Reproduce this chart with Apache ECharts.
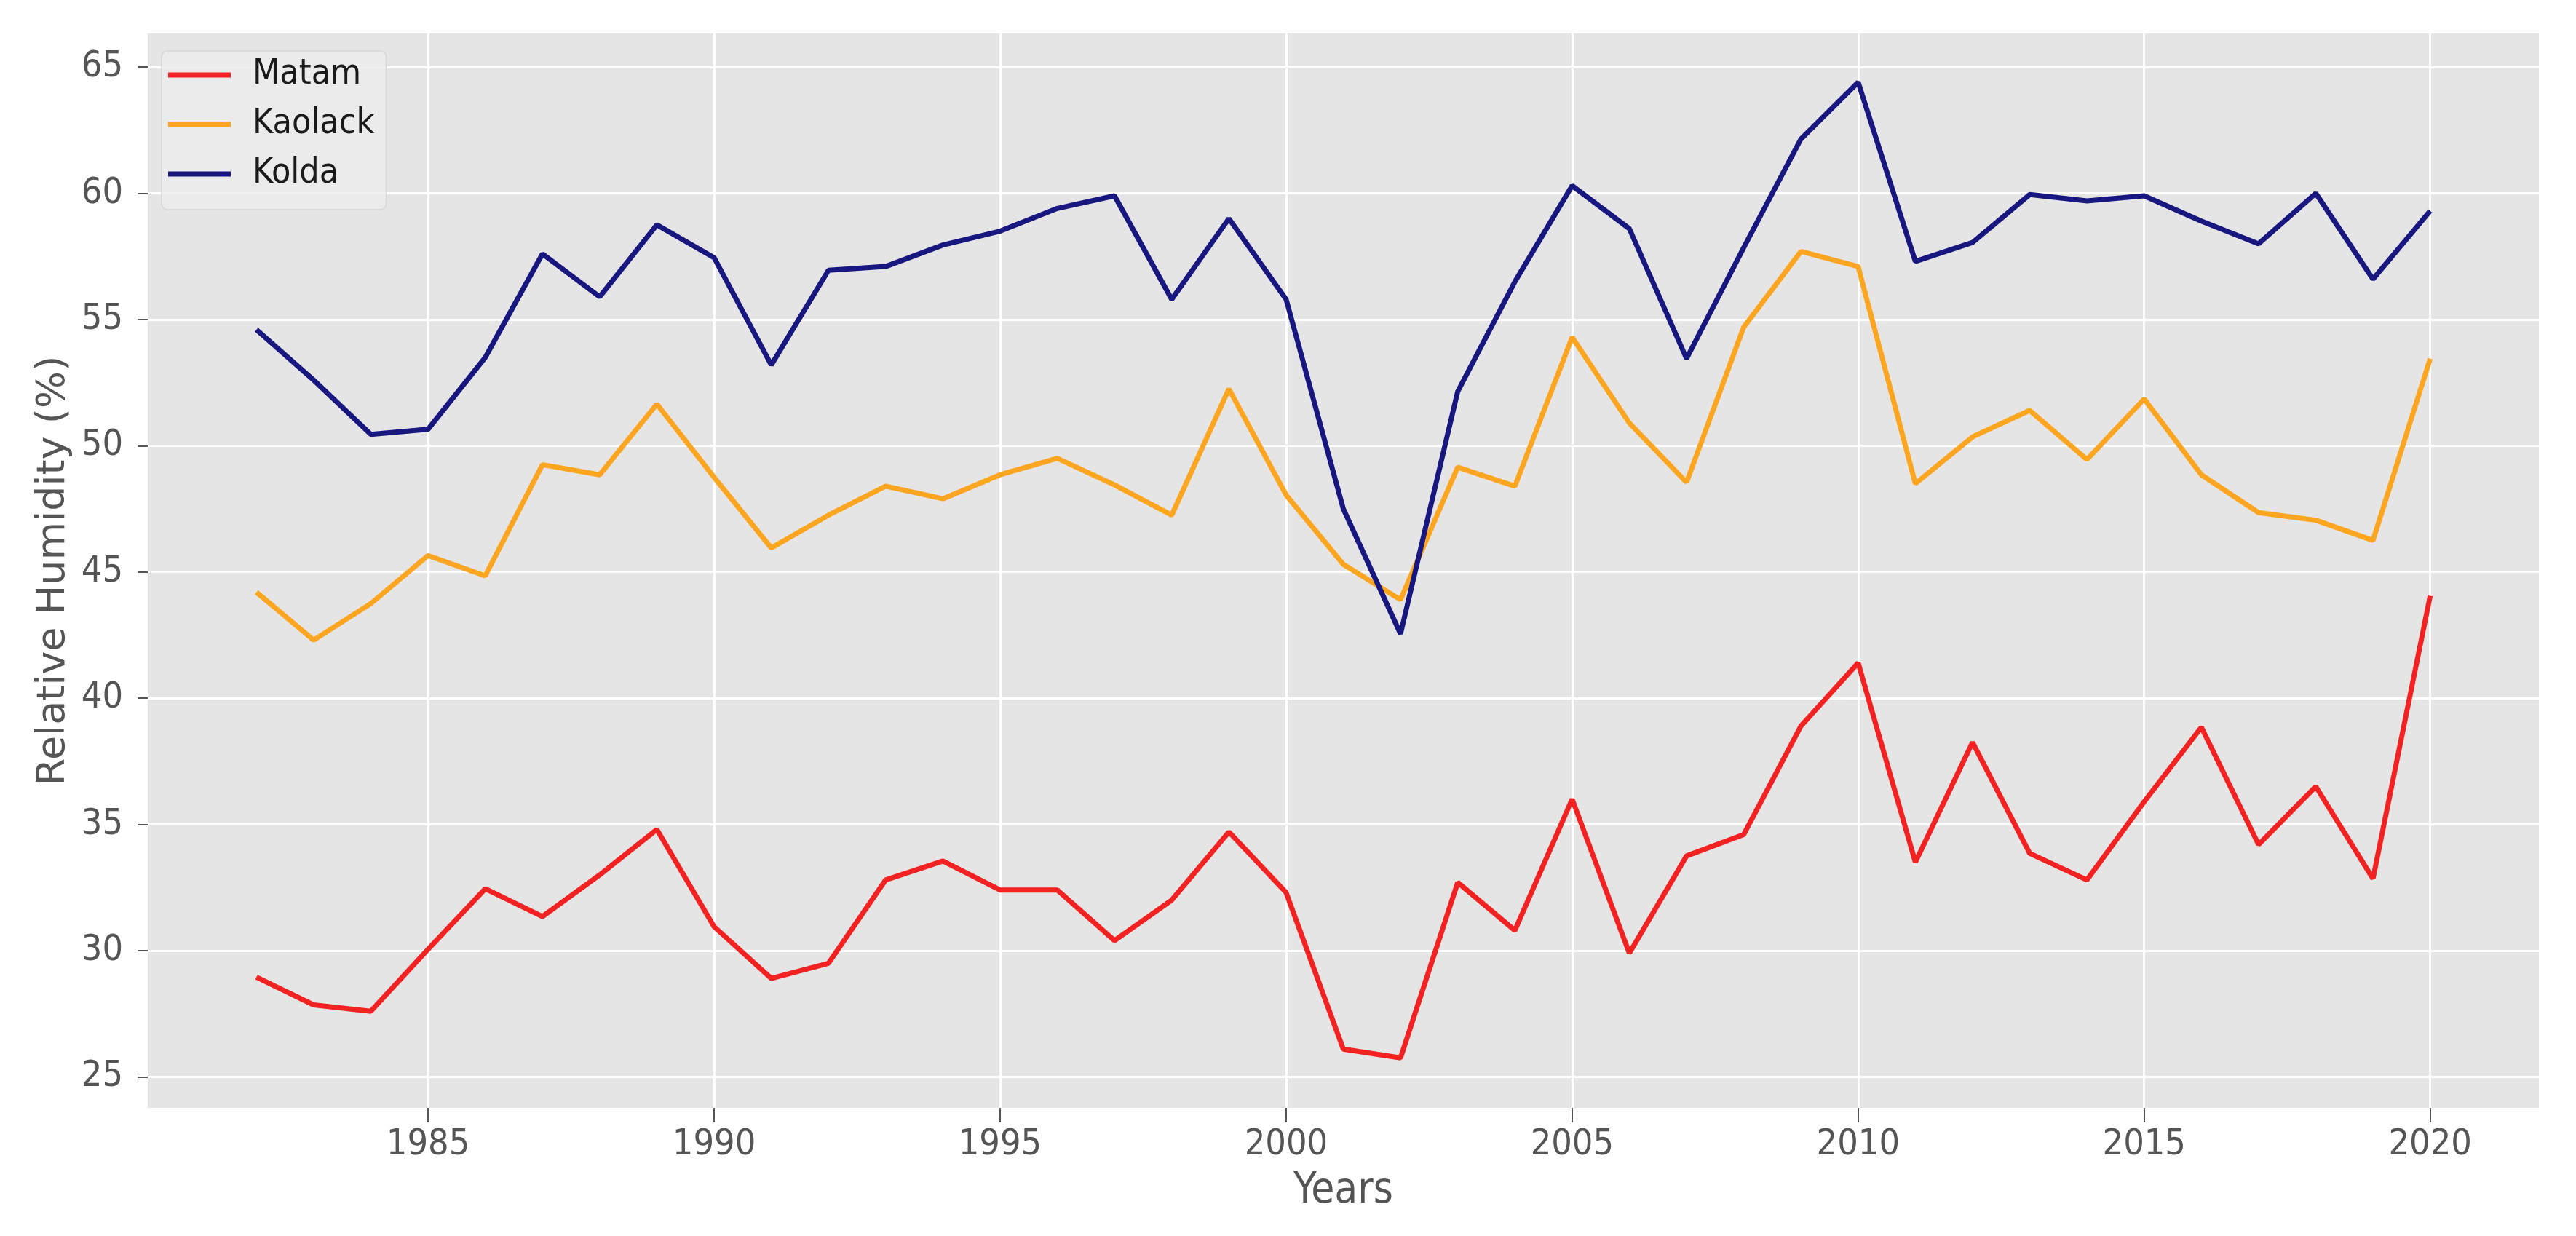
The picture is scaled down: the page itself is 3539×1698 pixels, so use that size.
<!DOCTYPE html>
<html>
<head>
<meta charset="utf-8">
<script src="https://cdn.jsdelivr.net/npm/echarts@6/dist/echarts.min.js"></script>
<style>
html,body{margin:0;padding:0;background:#fff;}
#chart{width:3539px;height:1698px;}
</style>
</head>
<body>
<div id="chart"></div>
<script>
const years = [1982,1983,1984,1985,1986,1987,1988,1989,1990,1991,1992,1993,1994,1995,1996,1997,1998,1999,2000,
  2001,2002,2003,2004,2005,2006,2007,2008,2009,2010,2011,2012,2013,2014,2015,2016,2017,2018,2019,2020];

const matam = [28.95,27.85,27.6,30.05,32.45,31.35,33.0,34.8,30.95,28.9,29.5,32.8,33.55,32.4,32.4,30.4,32.0,34.7,32.3,
  26.1,25.75,32.7,30.8,36.0,29.9,33.75,34.6,38.9,41.4,33.5,38.25,33.85,32.8,35.9,38.85,34.2,36.5,32.85,44.05];

const kaolack = [44.2,42.3,43.75,45.65,44.85,49.25,48.85,51.65,48.75,45.95,47.25,48.4,47.9,48.85,49.5,48.45,47.25,52.25,48.05,
  45.3,43.9,49.15,48.4,54.3,50.9,48.55,54.7,57.7,57.1,48.5,50.35,51.4,49.45,51.85,48.85,47.35,47.05,46.25,53.45];

const kolda = [54.6,52.6,50.45,50.65,53.5,57.6,55.9,58.75,57.45,53.2,56.95,57.1,57.95,58.5,59.4,59.9,55.8,59.0,55.8,
  47.5,42.55,52.15,56.5,60.3,58.6,53.45,57.85,62.15,64.4,57.3,58.05,59.95,59.7,59.9,58.9,58.0,60.0,56.6,59.3];

const seriesNames = ['Matam','Kaolack','Kolda'];
const seriesColors = ['#f22222','#fba520','#17177f'];
const xTicks = [1985,1990,1995,2000,2005,2010,2015,2020];
const yTicks = [25,30,35,40,45,50,55,60,65];

const narrow = "'Liberation Sans Narrow','DejaVu Sans Condensed','Liberation Sans',sans-serif";
const pair = arr => years.map((y,i)=>[y,arr[i]]);
const allData = [matam,kaolack,kolda];

const chart = echarts.init(document.getElementById('chart'), null, {renderer:'canvas'});
chart.setOption({
  backgroundColor:'#ffffff',
  animation:false,
  grid:{left:203,right:51,top:46,bottom:176,show:true,backgroundColor:'#e5e5e5',borderWidth:0,containLabel:false},
  legend:{
    left:222, top:70, orient:'vertical',
    padding:[7,16,23,9],
    icon:'rect',
    itemWidth:86, itemHeight:7, itemGap:16,
    backgroundColor:'rgba(236,236,236,0.85)', borderColor:'#d6d6d6', borderWidth:1.5, borderRadius:8,
    textStyle:{fontFamily:narrow,fontSize:48,color:'#1a1a1a',lineHeight:52,padding:[0,0,0,25]},
    data:seriesNames
  },
  xAxis:{
    type:'value', min:1980.1, max:2021.9,
    name:'Years', nameLocation:'middle', nameGap:86,
    nameTextStyle:{fontFamily:narrow,fontSize:58,color:'#555555'},
    axisLine:{show:false},
    axisTick:{show:true,length:20,lineStyle:{color:'#555555',width:2},customValues:xTicks},
    axisLabel:{fontFamily:narrow,fontSize:50,color:'#555555',margin:26,customValues:xTicks,
      formatter:v=>String(Math.round(v))},
    splitLine:{show:true,lineStyle:{color:'#ffffff',width:3},customValues:xTicks}
  },
  yAxis:{
    type:'value', min:23.77, max:66.33,
    name:'Relative Humidity (%)', nameLocation:'middle', nameGap:102,
    nameTextStyle:{fontFamily:"'DejaVu Sans',sans-serif",fontSize:54,color:'#555555'},
    axisLine:{show:false},
    axisTick:{show:true,length:14,lineStyle:{color:'#555555',width:2},customValues:yTicks},
    axisLabel:{fontFamily:narrow,fontSize:50,color:'#555555',margin:34,customValues:yTicks,
      formatter:v=>String(Math.round(v))},
    splitLine:{show:true,lineStyle:{color:'#ffffff',width:3},customValues:yTicks}
  },
  series: seriesNames.map((n,i)=>({
    name:n, type:'line', data:pair(allData[i]),
    symbol:'none', showSymbol:false,
    lineStyle:{color:seriesColors[i],width:7},
    itemStyle:{color:seriesColors[i]},
    z:2+i
  }))
});
</script>
</body>
</html>
